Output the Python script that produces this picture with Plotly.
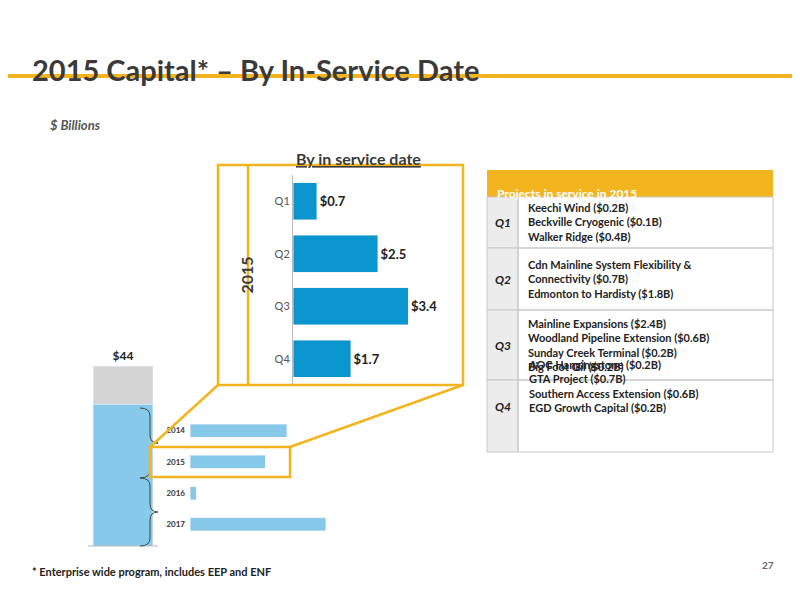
import plotly.graph_objects as go

W, H = 800, 600
OFF = 8  # page body margin in the browser

# data
total_label = "$44"
total_blue = 34.7
total_gray = 9.3
years = ["2014", "2015", "2016", "2017"]
year_values = [10.7, 8.3, 0.7, 15.0]
quarters = ["Q1", "Q2", "Q3", "Q4"]
quarter_values = [0.7, 2.5, 3.4, 1.7]
projects = [
    ["Keechi Wind ($0.2B)", "Beckville Cryogenic ($0.1B)", "Walker Ridge ($0.4B)"],
    ["Cdn Mainline System Flexibility &", "Connectivity ($0.7B)", "Edmonton to Hardisty ($1.8B)"],
    ["Mainline Expansions ($2.4B)", "Woodland Pipeline Extension ($0.6B)",
     "Sunday Creek Terminal ($0.2B)", "Big Foot Oil ($0.2B)"],
    ["AOC Hangingstone ($0.2B)", "GTA Project ($0.7B)",
     "Southern Access Extension ($0.6B)", "EGD Growth Capital ($0.2B)"],
]

FONT = "Lato"
YELLOW = "#f2b51f"
DARK = "#3a3a3a"


def px(x):
    return (x - OFF) / W


def py(y):
    return 1 - (y - OFF) / H


fig = go.Figure()

# total stacked bar
fig.add_trace(go.Bar(x=["t"], y=[total_blue], marker_color="#87c9e8", width=0.85,
                     xaxis="x", yaxis="y", showlegend=False))
fig.add_trace(go.Bar(x=["t"], y=[total_gray], marker_color="#d4d4d4", width=0.85,
                     xaxis="x", yaxis="y", showlegend=False,
                     text=["<b>%s</b>" % total_label], textposition="outside",
                     textfont=dict(family=FONT, size=12, color="#222"), cliponaxis=False))

# by-year bars
fig.add_trace(go.Bar(x=year_values, y=years, orientation="h", marker_color="#87c9e8",
                     width=0.42, xaxis="x2", yaxis="y2", showlegend=False))

# by-quarter bars
fig.add_trace(go.Bar(x=quarter_values, y=quarters, orientation="h", marker_color="#0b95cf",
                     width=0.7, xaxis="x3", yaxis="y3", showlegend=False,
                     text=["<b>$%.1f</b>" % v for v in quarter_values], textposition="outside",
                     textfont=dict(family=FONT, size=13, color="#222"), cliponaxis=False))

shapes = []
ann = []


def note(x, y, text, size, color="#222", **kw):
    d = dict(x=px(x), y=py(y), text=text, xref="paper", yref="paper", showarrow=False,
             font=dict(family=FONT, size=size, color=color))
    d.update(kw)
    ann.append(d)


def line(x0, y0, x1, y1, color=YELLOW, width=2.5):
    shapes.append(dict(type="line", x0=px(x0), y0=py(y0), x1=px(x1), y1=py(y1),
                       line=dict(color=color, width=width), xref="paper", yref="paper"))


def rect(x0, y0, x1, y1, fill=None, color=YELLOW, width=2.5):
    d = dict(type="rect", x0=px(x0), x1=px(x1), y0=py(y0), y1=py(y1),
             xref="paper", yref="paper", line=dict(color=color, width=width))
    if fill:
        d["fillcolor"] = fill
    if width == 0:
        d["line"] = dict(width=0)
    shapes.append(d)


# title + rule
note(30, 50, "<b>2015 Capital* – By In-Service Date</b>", 29, DARK, xanchor="left")
rect(0, 74, 808, 78, fill=YELLOW, width=0)
note(48, 115, "<i><b>$ Billions</b></i>", 13, "#555", xanchor="left")
note(358, 147, "<b><u>By in service date</u></b>", 16, DARK)

# total bar baseline
line(88, 546, 158, 546, color="#bbb", width=1)


def brace(y0, y1):
    ym = (y0 + y1) / 2
    d = "M %f,%f Q %f,%f %f,%f L %f,%f Q %f,%f %f,%f Q %f,%f %f,%f L %f,%f Q %f,%f %f,%f" % (
        px(140), py(y0), px(150), py(y0), px(150), py(y0 + 8),
        px(150), py(ym - 8), px(150), py(ym), px(158), py(ym),
        px(150), py(ym), px(150), py(ym + 8),
        px(150), py(y1 - 8), px(150), py(y1), px(140), py(y1))
    return dict(type="path", path=d, line=dict(color="#444", width=1),
                xref="paper", yref="paper")


shapes.append(brace(408, 478))
shapes.append(brace(478, 546))

# highlight box on 2015 + connectors + zoom box
rect(150, 447, 290, 477)
line(150, 447, 218, 385)
line(290, 447, 463, 385)
rect(218, 165, 463, 385)
line(248, 165, 248, 385)
note(234, 275, "<b>2015</b>", 16, DARK, textangle=-90)

# table
TX0, TX1, QX = 487, 773, 518
rect(TX0, 170, TX1, 197, fill=YELLOW, width=0)
note(TX0 + 8, 184, "<b>Projects in service in 2015</b>", 12, "white", xanchor="left")
rows = [(197, 248), (248, 310), (310, 380), (380, 452)]
for (r0, r1), q, items in zip(rows, quarters, projects):
    rect(TX0, r0, QX, r1, fill="#ececec", color="#c8c8c8", width=1)
    rect(QX, r0, TX1, r1, color="#c8c8c8", width=1)
    note((TX0 + QX) / 2, (r0 + r1) / 2, "<b><i>%s</i></b>" % q, 12)
    note(QX + 8, (r0 + r1) / 2, "<b>" + "<br>".join(items) + "</b>", 11,
         xanchor="left", align="left")

note(30, 580, "<b>* Enterprise wide program, includes EEP and ENF</b>", 11, xanchor="left")
note(776, 573, "<b>27</b>", 10, "#666", xanchor="right")

fig.update_layout(
    width=W, height=H, margin=dict(l=0, r=0, t=0, b=0, autoexpand=False),
    plot_bgcolor="white", paper_bgcolor="white", barmode="stack",
    shapes=shapes, annotations=ann,
    xaxis=dict(domain=[px(88), px(158)], visible=False),
    yaxis=dict(domain=[py(546), py(366)], range=[0, 44], visible=False),
    xaxis2=dict(domain=[px(190), px(190 + 180.8)], range=[0, 20], visible=False, anchor="y2"),
    yaxis2=dict(domain=[py(540), py(415)], autorange="reversed", anchor="x2",
                showline=False, ticks="", tickfont=dict(family=FONT, size=8, color="#333"),
                tickprefix="<b>", ticksuffix="</b>", ticklabelstandoff=4),
    xaxis3=dict(domain=[px(293), px(293 + 135.3)], range=[0, 4], visible=False, anchor="y3"),
    yaxis3=dict(domain=[py(385), py(175)], autorange="reversed", anchor="x3",
                showline=True, linecolor="#bbb", ticks="",
                tickfont=dict(family=FONT, size=11, color="#555")),
)

fig.write_html("out.html")
